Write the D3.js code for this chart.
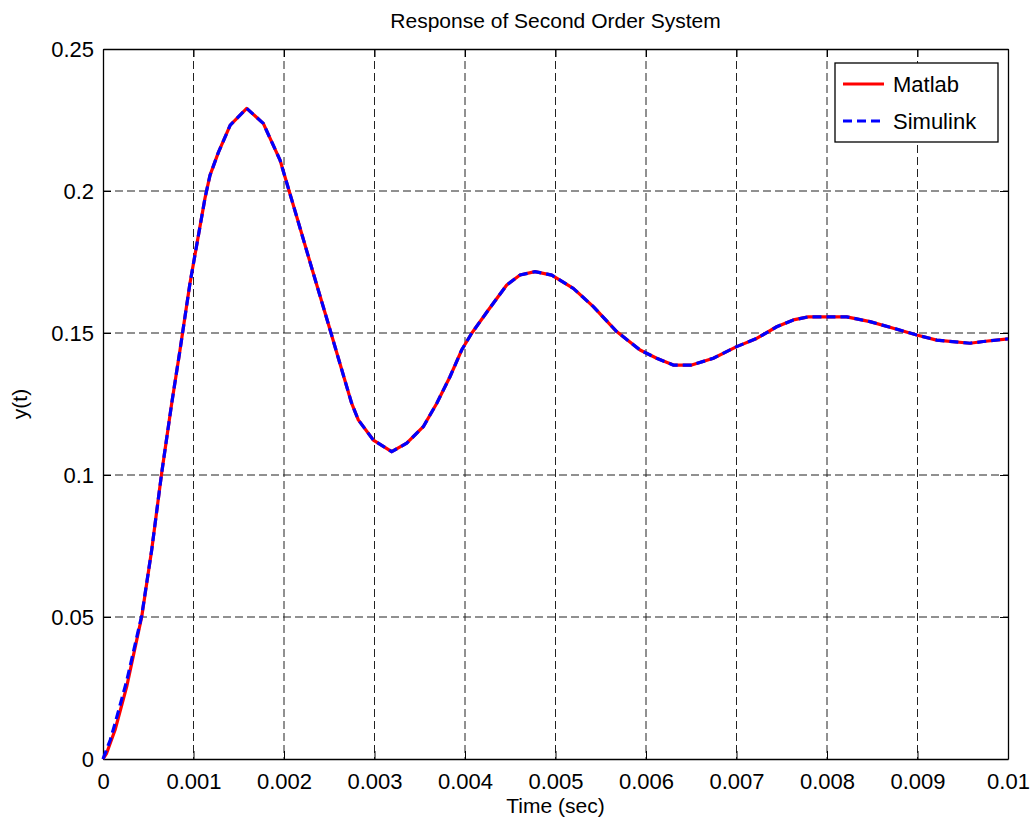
<!DOCTYPE html>
<html>
<head>
<meta charset="utf-8">
<script src="https://d3js.org/d3.v7.min.js"></script>
<style>
    body { margin: 0; background: #fff; }
    text { font-family: "Liberation Sans", Arial, sans-serif; fill: #000; }
</style>
</head>
<body>
<div id="chart"></div>
<script>

// time samples (sec)
var timeMatlab = [0, 0.00004, 0.000133, 0.000262, 0.000428, 0.000538, 0.000648, 0.000759, 0.000851, 0.000961,
    0.001127, 0.001182, 0.001274, 0.001406, 0.001588, 0.001771, 0.001956, 0.00214, 0.0023, 0.0025,
    0.0026, 0.002748, 0.002821, 0.002987, 0.00319, 0.003356, 0.003539, 0.003687, 0.003834, 0.003963,
    0.004074, 0.004258, 0.004461, 0.004608, 0.004773, 0.004958, 0.005197, 0.005418, 0.005676, 0.005934,
    0.006118, 0.006302, 0.006505, 0.006744, 0.007002, 0.007223, 0.007444, 0.007628, 0.007793, 0.008217,
    0.008475, 0.008733, 0.008991, 0.009212, 0.00958, 0.009727, 0.01];

var yMatlab = [0, 0.002, 0.0102, 0.0255, 0.0501, 0.0736, 0.1006, 0.1252, 0.144, 0.1675,
    0.1975, 0.2055, 0.2135, 0.2232, 0.2291, 0.2238, 0.2109, 0.191, 0.1736, 0.1521,
    0.1412, 0.1252, 0.1194, 0.1123, 0.1082, 0.1112, 0.117, 0.1252, 0.1346, 0.144,
    0.1499, 0.1581, 0.1669, 0.1704, 0.1716, 0.1704, 0.1657, 0.1593, 0.1505, 0.144,
    0.1411, 0.1387, 0.1387, 0.1411, 0.1452, 0.1481, 0.1522, 0.1546, 0.1557, 0.1557,
    0.154, 0.1517, 0.1493, 0.1475, 0.1464, 0.147, 0.1479];

// simulink trace, slightly different at the start
var timeSimulink = [0, 0.00008, 0.000133, 0.000262, 0.000428, 0.000538, 0.000648, 0.000759, 0.000851, 0.000961,
    0.001127, 0.001182, 0.001274, 0.001406, 0.001588, 0.001771, 0.001956, 0.00214, 0.0023, 0.0025,
    0.0026, 0.002748, 0.002821, 0.002987, 0.00319, 0.003356, 0.003539, 0.003687, 0.003834, 0.003963,
    0.004074, 0.004258, 0.004461, 0.004608, 0.004773, 0.004958, 0.005197, 0.005418, 0.005676, 0.005934,
    0.006118, 0.006302, 0.006505, 0.006744, 0.007002, 0.007223, 0.007444, 0.007628, 0.007793, 0.008217,
    0.008475, 0.008733, 0.008991, 0.009212, 0.00958, 0.009727, 0.01];

var ySimulink = [0, 0.0067, 0.0125, 0.0275, 0.0505, 0.0736, 0.1006, 0.1252, 0.144, 0.1675,
    0.1975, 0.2055, 0.2135, 0.2232, 0.2291, 0.2238, 0.2109, 0.191, 0.1736, 0.1521,
    0.1412, 0.1252, 0.1194, 0.1123, 0.1082, 0.1112, 0.117, 0.1252, 0.1346, 0.144,
    0.1499, 0.1581, 0.1669, 0.1704, 0.1716, 0.1704, 0.1657, 0.1593, 0.1505, 0.144,
    0.1411, 0.1387, 0.1387, 0.1411, 0.1452, 0.1481, 0.1522, 0.1546, 0.1557, 0.1557,
    0.154, 0.1517, 0.1493, 0.1475, 0.1464, 0.147, 0.1479];

var xTicks = [0, 0.001, 0.002, 0.003, 0.004, 0.005, 0.006, 0.007, 0.008, 0.009, 0.01];
var yTicks = [0, 0.05, 0.1, 0.15, 0.2, 0.25];
var seriesNames = ["Matlab", "Simulink"];
var seriesColors = ["#ff0000", "#0000ff"];

var svgWidth = 1032;
var svgHeight = 822;
var margin = { top: 49, right: 24, bottom: 63, left: 103 };
var chartWidth = svgWidth - margin.left - margin.right;
var chartHeight = svgHeight - margin.top - margin.bottom;

var svg = d3.select("#chart")
    .append("svg")
    .attr("width", svgWidth)
    .attr("height", svgHeight);

var chartGroup = svg.append("g")
    .attr("transform", `translate(${margin.left}, ${margin.top})`);

var xScale = d3.scaleLinear().domain([0, 0.01]).range([0, chartWidth]);
var yScale = d3.scaleLinear().domain([0, 0.25]).range([chartHeight, 0]);

// grid
chartGroup.append("g").selectAll("line")
    .data(xTicks.slice(1, -1))
    .enter().append("line")
    .attr("x1", d => xScale(d)).attr("x2", d => xScale(d))
    .attr("y1", 0).attr("y2", chartHeight)
    .attr("stroke", "#222")
    .attr("stroke-dasharray", "8,4");

chartGroup.append("g").selectAll("line")
    .data(yTicks.slice(1, -1))
    .enter().append("line")
    .attr("y1", d => yScale(d)).attr("y2", d => yScale(d))
    .attr("x1", 0).attr("x2", chartWidth)
    .attr("stroke", "#222")
    .attr("stroke-dasharray", "8,4");

// axes, ticks inside on all four sides
var bottomAxis = d3.axisBottom(xScale).tickValues(xTicks).tickSizeInner(-8).tickSizeOuter(0).tickPadding(14)
    .tickFormat(d => d === 0 ? "0" : d3.format("")(+d.toFixed(3)));
var leftAxis = d3.axisLeft(yScale).tickValues(yTicks).tickSizeInner(-8).tickSizeOuter(0).tickPadding(9)
    .tickFormat(d => d === 0 ? "0" : d3.format("")(+d.toFixed(2)));
var topAxis = d3.axisTop(xScale).tickValues(xTicks).tickSizeInner(-8).tickSizeOuter(0).tickFormat("");
var rightAxis = d3.axisRight(yScale).tickValues(yTicks).tickSizeInner(-8).tickSizeOuter(0).tickFormat("");

var xAxis = chartGroup.append("g")
    .attr("transform", `translate(0, ${chartHeight})`)
    .call(bottomAxis);
var yAxis = chartGroup.append("g").call(leftAxis);
chartGroup.append("g").call(topAxis);
chartGroup.append("g").attr("transform", `translate(${chartWidth}, 0)`).call(rightAxis);

chartGroup.selectAll(".domain").attr("stroke", "#000").attr("stroke-width", 1.3);
chartGroup.selectAll(".tick line").attr("stroke", "#000");
chartGroup.selectAll(".tick text")
    .attr("font-size", "22px")
    .attr("font-family", "Liberation Sans, Arial, sans-serif")
    .attr("fill", "#000");

// lines
var lineGen = d3.line()
    .x(d => xScale(d[0]))
    .y(d => yScale(d[1]));

var matlabData = d3.zip(timeMatlab, yMatlab);
var simulinkData = d3.zip(timeSimulink, ySimulink);

chartGroup.append("path")
    .datum(matlabData)
    .attr("d", lineGen)
    .attr("fill", "none")
    .attr("stroke", seriesColors[0])
    .attr("stroke-width", 3.2)
    .attr("stroke-linejoin", "round");

chartGroup.append("path")
    .datum(simulinkData)
    .attr("d", lineGen)
    .attr("fill", "none")
    .attr("stroke", seriesColors[1])
    .attr("stroke-width", 3.2)
    .attr("stroke-dasharray", "9,5");

// labels
svg.append("text")
    .attr("x", margin.left + chartWidth / 2)
    .attr("y", 28)
    .attr("text-anchor", "middle")
    .attr("font-size", "21px")
    .text("Response of Second Order System");

svg.append("text")
    .attr("x", margin.left + chartWidth / 2)
    .attr("y", 813)
    .attr("text-anchor", "middle")
    .attr("font-size", "21px")
    .text("Time (sec)");

svg.append("text")
    .attr("transform", `translate(27, ${margin.top + chartHeight / 2}) rotate(-90)`)
    .attr("text-anchor", "middle")
    .attr("font-size", "21px")
    .text("y(t)");

// legend
var legend = svg.append("g").attr("transform", "translate(835, 63)");
legend.append("rect")
    .attr("x", 0).attr("y", 0)
    .attr("width", 163).attr("height", 79)
    .attr("fill", "#fff")
    .attr("stroke", "#000")
    .attr("stroke-width", 1.3);

seriesNames.forEach(function(name, i) {
    var yy = 21 + i * 37;
    legend.append("line")
        .attr("x1", 8).attr("x2", 49)
        .attr("y1", yy).attr("y2", yy)
        .attr("stroke", seriesColors[i])
        .attr("stroke-width", 3.2)
        .attr("stroke-dasharray", i === 1 ? "9,5" : null);
    legend.append("text")
        .attr("x", 58)
        .attr("y", yy + 8)
        .attr("font-size", "22px")
        .text(name);
});

</script>
</body>
</html>
